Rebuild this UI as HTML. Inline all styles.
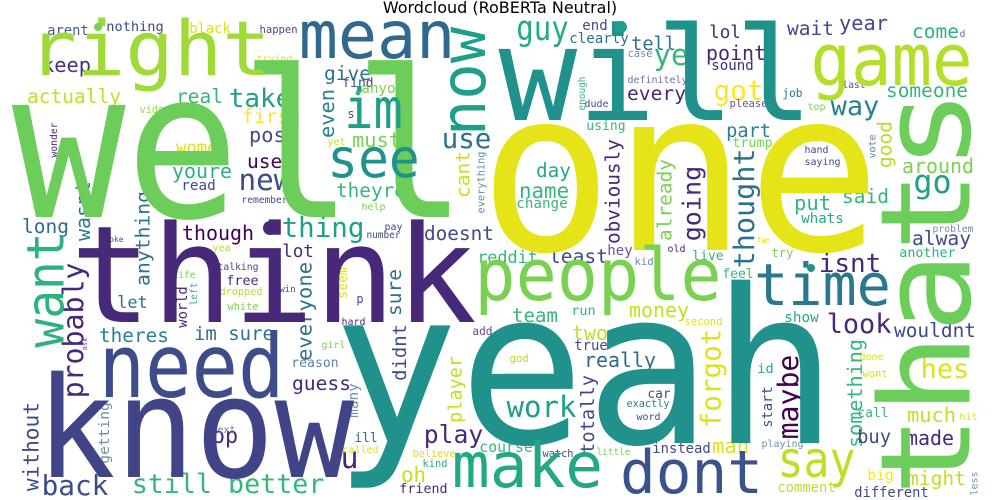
<!DOCTYPE html>
<html>
<head>
<meta charset="utf-8">
<style>
  html,body{margin:0;padding:0;background:#fff;}
  svg{display:block;}
  .w{font-family:"DejaVu Sans Mono","Liberation Mono",monospace;}
  .title{font-family:"DejaVu Sans","Liberation Sans",sans-serif;font-size:16px;fill:#000;}
</style>
</head>
<body>
<svg id="cloud" width="1000" height="500" viewBox="0 0 1000 500" xmlns="http://www.w3.org/2000/svg">
  <text class="title" x="500" y="13" text-anchor="middle">Wordcloud (RoBERTa Neutral)</text>
  <g id="words"></g>
</svg>
<script>
// [text, x, baselineY (or bottomY if vertical), length, color, vertical, fontSize?]
const bigWords = [
  ['well',22,217,435,'#6ccd5a',0,205],
  ['one',490,250,380,'#e4e419',0,225],
  ['will',505,120,302,'#21918c',0,130],
  ['thats',877,490,395,'#6ccd5a',1,125],
  ['yeah',343,443,484,'#21918c',0,215],
  ['think',77,322,393,'#482878',0,135],
  ['know',43,477,304,'#414487',0,140],
  ['need',103,397,177,'#3e4c8a',0,88],
  ['people',478,300,240,'#7ad151',0,72],
  ['time',757,305,131,'#2a788e',0,58],
  ['make',455,487,145,'#22a884',0,62],
  ['dont',623,493,137,'#3b528b',0,60],
  ['say',780,477,73,'#bddf26',0,50],
  ['game',814,85,155,'#b5de2b',0,72],
  ['right',32,75,235,'#a0da39',0,76],
  ['mean',302,58,150,'#31688e',0,66],
  ['now',451,133,103,'#1f9e89',1,62],
  ['im',347,128,53,'#1f9e89',0,55],
  ['see',330,177,87,'#20928c',0,54],
  ['want',25,345,110,'#2db27d',1,52],
  ['guy',518,40,49,'#25ab82',0,34]
];
const smallWords = [
  ['arent',48,35,40,'#46588b',0],['nothing',107,31,56,'#3e4a89',0],['black',190,33,40,'#dde318',0],
  ['happen',260,33,37,'#5c3d88',0],['keep',43,72,47,'#46337e',0],['trying',257,62,35,'#dde318',0],
  ['give',325,80,45,'#2c728e',0],['find',343,87,30,'#3e4a89',0],['actually',28,103,92,'#c2df23',0],
  ['real',177,103,45,'#35b779',0],['take',230,107,60,'#1f9e89',0],['anyone',362,93,50,'#7ad151',0],
  ['video',140,113,30,'#9ed93a',0],['first',243,123,57,'#fde725',0],['even',323,137,47,'#26828e',1],
  ['must',353,147,47,'#7ad151',0],['s',348,118,6,'#3e4a89',0],['use',443,148,47,'#2c728e',0],
  ['post',250,142,47,'#3e4a89',0],['wonder',50,157,34,'#482878',1],['women',177,153,50,'#dde318',0],
  ['yet',328,145,17,'#c2df23',0],['used',248,168,45,'#440154',0],['youre',173,178,58,'#2db27d',0],
  ['new',240,190,50,'#3e4a89',0],['cant',455,197,45,'#c8e020',1],['everything',477,213,61,'#5b8fa8',1],
  ['wasnt',75,240,58,'#2a788e',1],['read',182,190,33,'#3e4a89',0],['theyre',337,197,68,'#35b779',0],
  ['remember',242,203,45,'#3e4a89',0],['help',362,210,23,'#7ad151',0],['anything',135,285,93,'#2c728e',1],
  ['long',23,233,45,'#31688e',0],['though',183,240,70,'#440154',0],['thing',283,237,80,'#1f9e89',0],
  ['doesnt',425,240,68,'#3e4a89',0],['pay',385,230,17,'#3e4a89',0],['number',367,238,33,'#3e4a89',0],
  ['joke',105,242,18,'#3e4a89',0],['yea',213,251,17,'#b5de2b',0],['lot',283,257,30,'#482878',0],
  ['end',583,30,24,'#3e4a89',0],['clearly',570,43,58,'#2c728e',0],['tell',632,50,43,'#2c728e',0],
  ['ye',655,65,32,'#35b779',0],['lol',710,38,30,'#482878',0],['point',707,60,58,'#482878',0],
  ['sound',712,70,41,'#482878',0],['case',628,57,24,'#6f8fa8',0],['wait',788,35,45,'#3e4a89',0],
  ['year',840,30,47,'#3e4a89',0],['come',913,38,45,'#2db27d',0],['d',960,37,5,'#6f6fa8',0],
  ['definitely',628,83,59,'#6f6fa8',0],['every',628,100,57,'#482878',0],['got',715,100,47,'#fde725',0],
  ['enough',578,110,33,'#35b779',1],['dude',585,107,23,'#3e4a89',0],['please',730,107,37,'#6f4f98',0],
  ['job',783,97,19,'#2c728e',0],['last',843,88,22,'#5c4a98',0],['top',808,110,17,'#7ad151',0],
  ['someone',887,97,80,'#35b779',0],['way',832,115,46,'#26828e',0],['using',587,130,38,'#35b779',0],
  ['part',727,137,43,'#26828e',0],['good',877,167,45,'#b5de2b',1],['vote',868,158,23,'#5b7fa8',1],
  ['trump',733,147,39,'#7ad151',0],['hand',805,153,23,'#3e4a89',0],['saying',805,165,35,'#3e4a89',0],
  ['obviously',605,243,103,'#482878',1],['day',537,177,33,'#26a884',0],['around',903,173,70,'#7ad151',0],
  ['already',657,240,80,'#7ad151',1],['going',682,240,73,'#482878',1],['thought',733,267,117,'#2c728e',1],
  ['go',915,193,35,'#1f9e89',0],['name',520,198,48,'#35b779',0],['said',843,203,45,'#35b779',0],
  ['put',795,210,35,'#35b779',0],['change',517,208,50,'#35b779',0],['whats',802,223,41,'#26a884',0],
  ['alway',913,245,57,'#3e4a89',0],['problem',933,232,40,'#6f8fa8',0],['fan',757,243,13,'#dde318',0],
  ['another',900,257,55,'#2db27d',0],['isnt',820,272,60,'#482878',0],['try',772,257,21,'#7ad151',0],
  ['live',693,260,30,'#35b779',0],['old',668,252,17,'#482878',0],['kid',635,265,18,'#6f8fa8',0],
  ['hey',608,255,24,'#6f4f98',0],['least',550,263,57,'#3e4a89',0],['reddit',478,263,59,'#35b779',0],
  ['feel',723,278,30,'#35b779',0],['team',513,322,44,'#35b779',0],['run',572,315,23,'#35b779',0],
  ['money',630,317,58,'#c2df23',0],['second',685,325,37,'#dde318',0],['show',785,322,33,'#26a884',0],
  ['look',828,333,62,'#482878',0],['wouldnt',895,337,80,'#3e4a89',0],['two',573,340,34,'#c2df23',0],
  ['true',575,350,32,'#3e4a89',0],['forgot',700,427,97,'#dde318',1],['something',847,447,107,'#35b779',1],
  ['really',585,367,70,'#31688e',0],['god',510,362,18,'#b5de2b',0],['done',860,360,23,'#dde318',0],
  ['hes',922,378,46,'#dde318',0],['maybe',777,438,82,'#440154',1],['id',758,373,15,'#26a884',0],
  ['wont',863,377,24,'#dde318',0],['totally',580,453,77,'#3e4a89',1],['work',508,417,67,'#1f9e89',0],
  ['car',648,398,22,'#3e4a89',0],['exactly',627,407,42,'#26828e',0],['word',637,420,23,'#3e4a89',0],
  ['start',762,427,40,'#3e4a89',1],['much',908,422,47,'#c2df23',0],['call',858,417,30,'#35b779',0],
  ['hit',960,420,17,'#dde318',0],['buy',858,443,32,'#3e4a89',0],['made',907,445,46,'#482878',0],
  ['course',480,452,52,'#35b779',0],['watch',543,457,30,'#3e4a89',0],['little',597,455,33,'#7ad151',0],
  ['instead',653,453,57,'#3e4a89',0],['man',713,453,35,'#dde318',0],['playing',762,447,41,'#6f8fa8',0],
  ['might',908,485,57,'#c2df23',0],['big',868,480,25,'#fde725',0],['less',970,495,23,'#6f8fa8',1],
  ['comment',778,492,57,'#c2df23',0],['different',855,497,73,'#3e4a89',0],
  ['probably',62,397,133,'#482878',1],['let',118,308,29,'#2c728e',0],['free',227,285,31,'#482878',0],
  ['talking',218,270,40,'#3e4a89',0],['life',173,278,22,'#7ad151',0],['dropped',220,295,42,'#b5de2b',0],
  ['white',228,310,30,'#7ad151',0],['world',177,327,40,'#482878',1],['left',190,305,22,'#2db27d',1],
  ['win',280,292,15,'#3e4a89',0],['everyone',300,360,97,'#2c728e',1],['seem',340,298,30,'#dde318',1],
  ['p',357,303,6,'#3e4a89',0],['sure',390,315,45,'#2c728e',1],['hard',342,325,23,'#482878',0],
  ['add',473,335,19,'#5c4a98',0],['ask',82,350,12,'#6f4f98',1],['theres',100,342,68,'#26828e',0],
  ['im sure',195,340,78,'#2c728e',0],['girl',322,348,23,'#7ad151',0],['didnt',392,380,55,'#3e4a89',1],
  ['reason',292,367,46,'#5b7fa8',0],['guess',293,390,57,'#482878',0],['many',350,417,33,'#6f8fa8',1],
  ['player',448,422,65,'#c2df23',1],['without',23,490,87,'#3e4a89',1],['getting',98,463,60,'#6f8fa8',1],
  ['op',213,443,24,'#482878',0],['next',212,433,23,'#5b7fa8',0],['u',342,468,15,'#482878',0],
  ['play',425,443,57,'#482878',0],['ill',355,442,22,'#2c728e',0],['called',343,453,35,'#dde318',0],
  ['believe',413,457,42,'#dde318',0],['kind',423,467,24,'#2db27d',0],['oh',402,482,23,'#c2df23',0],
  ['friend',400,493,47,'#482878',0],['back',43,495,64,'#3e4a89',0],['still better',133,493,190,'#35b779',0]
];
const dotX = [98,358,621,270,811];
const dotY = [27,93,27,228,268];
const dotR = [4,2.5,6,7,4];
const dotC = ['#7ad151','#35b779','#1f9e89','#482878','#21918c'];

const NS = 'http://www.w3.org/2000/svg';
const layer = document.getElementById('words');

function drawWord(e){
  const w=e[0], x=e[1], y=e[2], L=e[3], col=e[4], vert=e[5];
  const n=w.length;
  const s = e[6] || L/(0.6*n-0.1);
  const t=document.createElementNS(NS,'text');
  t.setAttribute('class','w');
  t.setAttribute('font-size',s.toFixed(1));
  t.setAttribute('fill',col);
  t.setAttribute('textLength',(L+0.1*s).toFixed(1));
  t.setAttribute('lengthAdjust','spacingAndGlyphs');
  if(!vert){
    t.setAttribute('x',(x-0.05*s).toFixed(1));
    t.setAttribute('y',y);
  } else {
    const k=/[bdfhklti]/.test(w)?0.74:0.55;
    const xb=x+k*s, yb=y+0.05*s;
    t.setAttribute('x',0);
    t.setAttribute('y',0);
    t.setAttribute('transform','translate('+xb.toFixed(1)+','+yb.toFixed(1)+') rotate(-90)');
  }
  t.textContent=w;
  
  
  layer.appendChild(t);
}
smallWords.forEach(drawWord);
bigWords.forEach(drawWord);
for(let i=0;i<dotX.length;i++){
  const c=document.createElementNS(NS,'circle');
  c.setAttribute('cx',dotX[i]);c.setAttribute('cy',dotY[i]);c.setAttribute('r',dotR[i]);c.setAttribute('fill',dotC[i]);
  
  
  layer.appendChild(c);
}
</script>
</body>
</html>
